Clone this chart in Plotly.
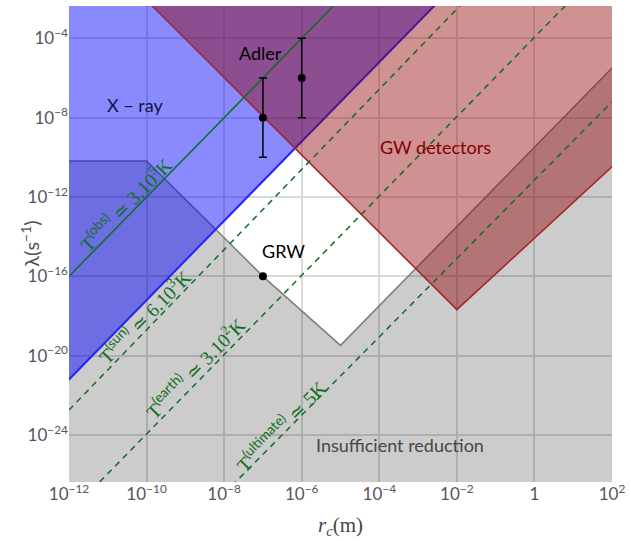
import plotly.graph_objects as go

# ---------------- data ----------------
x_tick_vals = [1e-12, 1e-10, 1e-8, 1e-6, 1e-4, 1e-2, 1, 1e2]
x_tick_text = ["10<sup>−12</sup>", "10<sup>−10</sup>", "10<sup>−8</sup>", "10<sup>−6</sup>",
               "10<sup>−4</sup>", "10<sup>−2</sup>", "1", "10<sup>2</sup>"]
y_tick_vals = [1e-4, 1e-8, 1e-12, 1e-16, 1e-20, 1e-24]
y_tick_text = ["10<sup>−4</sup>", "10<sup>−8</sup>", "10<sup>−12</sup>", "10<sup>−16</sup>",
               "10<sup>−20</sup>", "10<sup>−24</sup>"]

# Insufficient reduction boundary (region below)
gray_rc = [1e-13, 1e-10, 10**-8.2, 1e-7, 1e-5, 1e3]
gray_lam = [10**-10.18, 10**-10.18, 10**-13.66, 1e-16, 10**-19.48, 10**-3.5]

# X-ray boundary (region above)
xray_rc = [1e-13, 1e-1]
xray_lam = [10**-23.2, 10**0.8]

# GW detectors boundary (region above)
gw_rc = [10**-10.2, 1e-2, 1e3]
gw_lam = [10**-1.69, 10**-17.68, 10**-8.68]

# temperature lines
t_obs_rc = [1e-12, 1e-5]
t_obs_lam = [1e-16, 1e-2]
t_sun_rc = [1e-12, 1e-1]
t_sun_lam = [10**-22.74, 10**-0.5]
t_earth_rc = [1e-12, 1e1]
t_earth_lam = [10**-27.95, 10**-1.95]
t_ult_rc = [1e-8, 1e2]
t_ult_lam = [10**-26.95, 10**-7.2]

# experimental / theoretical points
adler_rc = [1e-7, 1e-6]
adler_lam = [1e-8, 1e-6]
adler_lo = [1e-10, 1e-8]
adler_hi = [1e-6, 1e-4]
grw_rc = [1e-7]
grw_lam = [1e-16]

# ---------------- figure ----------------
GREEN = "rgb(15,110,35)"
fig = go.Figure()

# gray region
fig.add_trace(go.Scatter(
    x=gray_rc + [1e3, 1e-13], y=gray_lam + [1e-30, 1e-30],
    mode="lines", fill="toself", fillcolor="rgba(0,0,0,0.2)",
    line=dict(color="rgb(125,125,125)", width=1.5), hoverinfo="skip", showlegend=False))
# X-ray region
fig.add_trace(go.Scatter(
    x=xray_rc + [1e-13], y=xray_lam + [10**0.8],
    mode="lines", fill="toself", fillcolor="rgba(0,0,255,0.46)",
    line=dict(color="rgb(35,35,255)", width=2), hoverinfo="skip", showlegend=False))
# GW region
fig.add_trace(go.Scatter(
    x=gw_rc + [1e3, 10**-10.2], y=gw_lam + [1e1, 1e1],
    mode="lines", fill="toself", fillcolor="rgba(143,0,0,0.43)",
    line=dict(color="rgb(165,35,35)", width=1.5), hoverinfo="skip", showlegend=False))

# temperature lines
fig.add_trace(go.Scatter(x=t_obs_rc, y=t_obs_lam, mode="lines",
                         line=dict(color=GREEN, width=1.5), hoverinfo="skip", showlegend=False))
for rc, lam in [(t_sun_rc, t_sun_lam), (t_earth_rc, t_earth_lam), (t_ult_rc, t_ult_lam)]:
    fig.add_trace(go.Scatter(x=rc, y=lam, mode="lines",
                             line=dict(color=GREEN, width=1.5, dash="6px,5px"),
                             hoverinfo="skip", showlegend=False))

# Adler points with error bars
fig.add_trace(go.Scatter(
    x=adler_rc, y=adler_lam, mode="markers",
    marker=dict(color="black", size=8),
    error_y=dict(type="data", symmetric=False,
                 array=[h - v for h, v in zip(adler_hi, adler_lam)],
                 arrayminus=[v - l for v, l in zip(adler_lam, adler_lo)],
                 color="black", thickness=1.5, width=4),
    hoverinfo="skip", showlegend=False))
# GRW point
fig.add_trace(go.Scatter(x=grw_rc, y=grw_lam, mode="markers",
                         marker=dict(color="black", size=8), hoverinfo="skip", showlegend=False))

SANS = "Lato, Open Sans, sans-serif"
SERIF = "Liberation Serif, DejaVu Serif, serif"

def label(text, x, y, color, size=17, family=SANS, angle=0):
    fig.add_annotation(text=text, x=x, y=y, xref="x", yref="y", showarrow=False,
                       textangle=angle, font=dict(family=family, size=size, color=color))

label("X − ray", -10.31, -7.34, "rgb(20,20,70)", 18)
label("Adler", -7.05, -4.74, "black", 18)
label("GRW", -6.46, -14.73, "black", 18)
label("GW detectors", -2.56, -9.48, "rgb(130,0,0)", 18)
label("Insufficient reduction", -3.47, -24.51, "rgb(70,70,70)", 18)

ANG = -45.5
SUP = "<sup><span style='font-family:Lato'>{}</span></sup>"
label("T" + SUP.format("(obs)") + " ≃ 3.10<sup>5</sup>K", -10.56, -12.31, GREEN, 19.5, SERIF, ANG)
label("T" + SUP.format("(sun)") + " ≃ 6.10<sup>3</sup>K", -10.09, -18.0, GREEN, 19.5, SERIF, ANG)
label("T" + SUP.format("(earth)") + " ≃ 3.10<sup>2</sup>K", -8.77, -20.6, GREEN, 19.5, SERIF, ANG)
label("T" + SUP.format("(ultimate)") + " ≃ 5K", -6.56, -23.5, GREEN, 19.5, SERIF, ANG)

# axis titles
fig.add_annotation(text="λ(s<sup>−1</sup>)", xref="paper", yref="paper", x=-0.1, y=0.5,
                   showarrow=False, textangle=-90,
                   font=dict(family=SANS, size=20, color="rgb(80,80,80)"))
fig.add_annotation(text="<i>r</i><sub><i>c</i></sub>(m)", xref="paper", yref="paper",
                   x=0.5, y=-0.124, showarrow=False,
                   font=dict(family=SERIF, size=21, color="rgb(70,70,70)"))

axis_common = dict(type="log", showgrid=True, gridcolor="rgb(218,218,218)", gridwidth=1.5,
                   zeroline=False, showline=False, ticks="",
                   tickfont=dict(family=SANS, size=17, color="rgb(85,85,90)"))
fig.update_xaxes(range=[-12, 2], tickvals=x_tick_vals, ticktext=x_tick_text, **axis_common)
fig.update_yaxes(range=[-26.37, -2.37], tickvals=y_tick_vals, ticktext=y_tick_text, **axis_common)

fig.update_layout(width=631, height=541, margin=dict(l=69, r=16, t=6, b=59),
                  plot_bgcolor="white", paper_bgcolor="white", showlegend=False)

fig.write_html("out.html", config={"displayModeBar": False},
               post_script="document.body.style.margin='0px';document.body.style.overflow='hidden';")
